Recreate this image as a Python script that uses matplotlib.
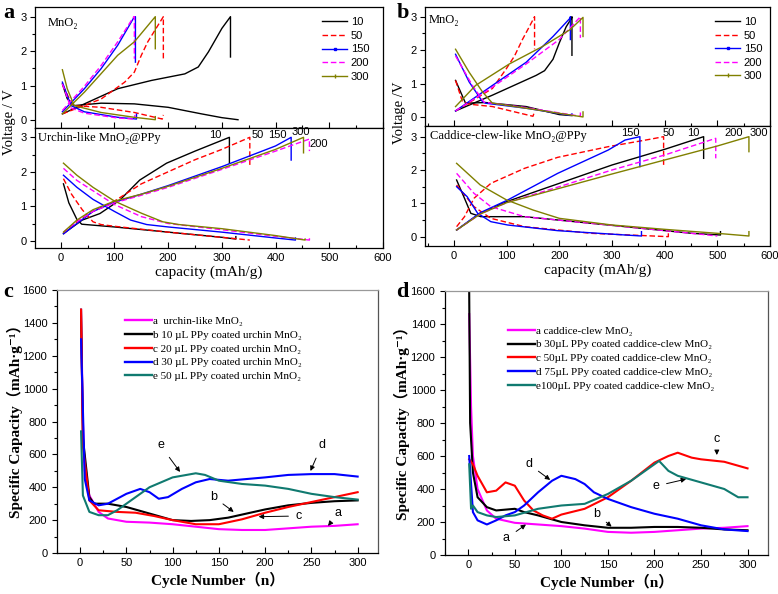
import matplotlib
matplotlib.use("Agg")
import matplotlib.pyplot as plt
from matplotlib.lines import Line2D
from matplotlib.ticker import MultipleLocator

# ---------------- data: panel a (urchin) ----------------
rates = ["10", "50", "150", "200", "300"]

a_top_10_chg = [(3, 0.18), (44, 0.47), (106, 0.91), (169, 1.15), (231, 1.34), (256, 1.54), (275, 1.98), (300, 2.66), (316, 3.0), (316, 1.83)]
a_top_10_dis = [(3, 1.05), (12, 0.62), (25, 0.42), (75, 0.49), (137, 0.47), (200, 0.37), (262, 0.18), (300, 0.07), (330, 0.01)]
a_top_50_chg = [(3, 0.18), (75, 0.61), (119, 1.1), (137, 1.39), (150, 1.88), (162, 2.27), (191, 3.0), (191, 1.78)]
a_top_50_dis = [(4, 1.0), (22, 0.42), (75, 0.37), (137, 0.22), (189, 0.03), (191, 0.15)]
a_top_150_chg = [(3, 0.24), (44, 0.91), (75, 1.49), (106, 2.17), (136, 2.97), (139, 3.0), (139, 1.68)]
a_top_150_dis = [(3, 1.1), (19, 0.42), (44, 0.24), (106, 0.08), (141, 0.03), (141, 0.17)]
a_top_200_chg = [(3, 0.28), (44, 0.98), (75, 1.58), (106, 2.27), (136, 3.0), (137, 3.0), (137, 1.78)]
a_top_200_dis = [(3, 1.05), (19, 0.35), (44, 0.2), (106, 0.06), (138, 0.03), (138, 0.15)]
a_top_300_chg = [(3, 0.18), (44, 0.81), (106, 1.88), (137, 2.27), (176, 3.0), (176, 2.07)]
a_top_300_dis = [(3, 1.46), (12, 0.91), (25, 0.42), (75, 0.22), (137, 0.08), (176, 0.01), (176, 0.1)]

a_bot_10_chg = [(5, 0.21), (40, 0.6), (73, 0.79), (110, 1.18), (147, 1.76), (197, 2.25), (250, 2.6), (314, 3.0), (314, 2.25)]
a_bot_10_dis = [(5, 1.65), (15, 1.1), (30, 0.62), (39, 0.48), (100, 0.4), (200, 0.25), (300, 0.1), (326, 0.05), (326, 0.12)]
a_bot_50_chg = [(5, 0.2), (30, 0.55), (60, 0.85), (100, 1.15), (150, 1.65), (200, 2.0), (250, 2.35), (300, 2.65), (352, 3.0), (352, 2.2)]
a_bot_50_dis = [(5, 1.8), (20, 1.35), (40, 0.9), (60, 0.55), (75, 0.47), (100, 0.42), (200, 0.25), (300, 0.1), (352, 0.02)]
a_bot_150_chg = [(5, 0.2), (30, 0.5), (60, 0.85), (100, 1.12), (150, 1.35), (200, 1.6), (300, 2.15), (400, 2.75), (429, 3.0), (429, 2.34)]
a_bot_150_dis = [(5, 1.9), (30, 1.55), (60, 1.2), (100, 0.85), (130, 0.6), (160, 0.47), (200, 0.4), (300, 0.25), (400, 0.08), (437, 0.02), (437, 0.08)]
a_bot_200_chg = [(5, 0.25), (30, 0.55), (60, 0.85), (100, 1.1), (150, 1.32), (200, 1.55), (300, 2.07), (400, 2.6), (463, 2.95), (463, 2.6)]
a_bot_200_dis = [(5, 2.1), (30, 1.75), (60, 1.45), (100, 1.05), (150, 0.7), (200, 0.5), (300, 0.32), (400, 0.13), (463, 0.02), (463, 0.1)]
a_bot_300_chg = [(5, 0.25), (30, 0.6), (60, 0.9), (100, 1.15), (150, 1.35), (200, 1.58), (300, 2.1), (400, 2.65), (452, 3.0), (452, 2.55)]
a_bot_300_dis = [(5, 2.25), (30, 1.9), (60, 1.55), (100, 1.15), (150, 0.8), (190, 0.55), (220, 0.47), (300, 0.35), (400, 0.15), (455, 0.02), (455, 0.05)]

# ---------------- data: panel b (caddice-clew) ----------------
b_top_10_chg = [(3, 0.19), (73, 0.66), (156, 1.25), (172, 1.39), (188, 1.73), (200, 2.22), (213, 2.7), (223, 2.95), (224, 3.0), (224, 1.85)]
b_top_10_dis = [(3, 1.1), (22, 0.42), (60, 0.44), (137, 0.32), (200, 0.08), (224, 0.05)]
b_top_50_chg = [(3, 0.19), (73, 0.86), (99, 1.44), (115, 1.83), (130, 2.32), (143, 2.7), (153, 3.0), (153, 2.03)]
b_top_50_dis = [(3, 1.1), (16, 0.47), (29, 0.39), (73, 0.32), (150, 0.03), (153, 0.17)]
b_top_150_chg = [(3, 0.19), (73, 0.95), (137, 1.64), (188, 2.41), (220, 2.95), (221, 3.0), (221, 2.32)]
b_top_150_dis = [(3, 1.88), (29, 1.05), (54, 0.47), (60, 0.42), (137, 0.27), (220, 0.06), (224, 0.1)]
b_top_200_chg = [(3, 0.19), (73, 0.9), (137, 1.59), (200, 2.32), (240, 3.0), (240, 2.37)]
b_top_200_dis = [(3, 1.83), (35, 0.95), (57, 0.45), (137, 0.29), (240, 0.03), (240, 0.17)]
b_top_300_chg = [(3, 0.32), (41, 0.95), (105, 1.59), (169, 2.12), (220, 2.61), (245, 2.98), (245, 2.41)]
b_top_300_dis = [(3, 2.03), (29, 1.34), (54, 0.76), (73, 0.42), (137, 0.27), (245, 0.01), (245, 0.16)]

b_bot_10_chg = [(5, 0.2), (50, 0.7), (100, 1.05), (200, 1.6), (300, 2.15), (400, 2.62), (474, 3.0), (474, 2.35)]
b_bot_10_dis = [(5, 1.7), (20, 1.15), (32, 0.7), (51, 0.6), (134, 0.6), (197, 0.5), (325, 0.3), (452, 0.1), (506, 0.05), (506, 0.15)]
b_bot_50_chg = [(5, 0.3), (20, 0.6), (38, 1.15), (70, 1.6), (134, 2.05), (197, 2.38), (293, 2.7), (375, 2.93), (398, 3.0), (398, 2.1)]
b_bot_50_dis = [(5, 1.55), (38, 0.9), (70, 0.55), (134, 0.3), (261, 0.1), (407, 0.0), (407, 0.12)]
b_bot_150_chg = [(5, 0.2), (50, 0.72), (102, 1.1), (197, 1.9), (293, 2.6), (325, 2.9), (353, 3.0), (353, 2.1)]
b_bot_150_dis = [(5, 1.5), (25, 1.2), (45, 0.7), (70, 0.45), (102, 0.35), (197, 0.18), (325, 0.05), (356, 0.02), (356, 0.15)]
b_bot_200_chg = [(5, 0.2), (50, 0.68), (100, 1.02), (200, 1.5), (300, 2.0), (400, 2.45), (497, 2.95), (497, 2.35)]
b_bot_200_dis = [(5, 1.9), (38, 1.3), (70, 0.9), (134, 0.6), (197, 0.5), (325, 0.3), (452, 0.1), (500, 0.02)]
b_bot_300_chg = [(5, 0.2), (50, 0.68), (100, 1.02), (200, 1.45), (300, 1.88), (400, 2.3), (500, 2.72), (560, 3.0), (560, 2.55)]
b_bot_300_dis = [(5, 2.2), (50, 1.55), (100, 1.1), (150, 0.8), (200, 0.55), (300, 0.35), (400, 0.22), (500, 0.1), (560, 0.02), (560, 0.15)]

# ---------------- data: panel c ----------------
c_labels = ["a  urchin-like MnO\u2082",
            "b 10 \u00b5L PPy coated urchin MnO\u2082",
            "c 20 \u00b5L PPy coated urchin MnO\u2082",
            "d 30 \u00b5L PPy coated urchin MnO\u2082",
            "e 50 \u00b5L PPy coated urchin MnO\u2082"]
c_a_n = [1, 3, 5, 10, 20, 30, 50, 75, 100, 125, 150, 175, 200, 225, 250, 275, 300]
c_a_v = [1480, 800, 500, 350, 250, 210, 190, 185, 175, 160, 145, 140, 140, 150, 160, 165, 175]
c_b_n = [1, 3, 10, 15, 30, 50, 75, 100, 120, 140, 160, 180, 200, 225, 250, 275, 300]
c_b_v = [1480, 700, 340, 300, 300, 280, 240, 200, 195, 200, 215, 240, 265, 290, 305, 315, 320]
c_c_n = [1, 3, 10, 20, 40, 60, 80, 100, 125, 150, 175, 200, 225, 250, 275, 300]
c_c_v = [1480, 650, 320, 260, 250, 245, 225, 200, 175, 175, 205, 245, 280, 310, 340, 370]
c_d_n = [1, 5, 10, 20, 30, 40, 50, 65, 75, 85, 95, 110, 125, 140, 160, 180, 200, 225, 250, 275, 300]
c_d_v = [1300, 450, 320, 290, 300, 330, 360, 390, 370, 330, 340, 390, 430, 450, 440, 450, 460, 475, 480, 480, 465]
c_e_n = [1, 3, 10, 20, 30, 40, 50, 60, 75, 100, 125, 135, 150, 175, 200, 225, 250, 275, 300]
c_e_v = [740, 350, 250, 230, 230, 260, 300, 340, 400, 460, 485, 475, 440, 420, 410, 390, 360, 340, 325]

# ---------------- data: panel d ----------------
d_labels = ["a caddice-clew MnO\u2082",
            "b 30\u00b5L PPy coated caddice-clew MnO\u2082",
            "c 50\u00b5L PPy coated caddice-clew MnO\u2082",
            "d 75\u00b5L PPy coated caddice-clew MnO\u2082",
            "e100\u00b5L PPy coated caddice-clew MnO\u2082"]
d_a_n = [1, 3, 5, 10, 20, 30, 50, 75, 100, 125, 150, 175, 200, 225, 250, 275, 300]
d_a_v = [1460, 900, 600, 400, 270, 220, 195, 185, 175, 160, 140, 135, 140, 150, 160, 165, 175]
d_b_n = [1, 2, 5, 10, 20, 30, 40, 50, 60, 75, 100, 125, 150, 175, 200, 225, 250, 275, 300]
d_b_v = [1590, 800, 500, 350, 290, 270, 275, 280, 260, 240, 200, 180, 165, 165, 170, 170, 165, 155, 150]
d_c_n = [1, 5, 10, 20, 30, 40, 50, 60, 70, 80, 90, 100, 125, 150, 175, 200, 215, 225, 240, 250, 275, 300]
d_c_v = [580, 550, 480, 380, 390, 440, 420, 330, 270, 240, 220, 245, 280, 350, 450, 560, 600, 620, 590, 580, 565, 525]
d_d_n = [1, 5, 10, 20, 30, 40, 50, 60, 75, 90, 100, 115, 125, 135, 150, 175, 200, 225, 250, 275, 300]
d_d_v = [600, 260, 210, 185, 210, 240, 260, 300, 380, 450, 480, 460, 430, 380, 340, 290, 250, 220, 180, 155, 145]
d_e_n = [1, 3, 5, 10, 20, 30, 50, 75, 100, 125, 150, 175, 200, 205, 215, 225, 250, 275, 290, 300]
d_e_v = [550, 280, 300, 260, 240, 230, 240, 280, 300, 310, 370, 450, 550, 570, 510, 480, 440, 400, 350, 350]

# ---------------- styles ----------------
SERIF = ["Liberation Serif", "DejaVu Serif"]
SERIF_CJK = ["Liberation Serif", "Noto Sans CJK SC", "DejaVu Serif"]
SANS = ["Liberation Sans", "DejaVu Sans"]
plt.rcParams["font.family"] = SANS

rate_colors = ["#000000", "#FF0000", "#0000FF", "#FF00FF", "#808000"]
rate_ls = ["-", (0, (4, 2)), "-", (0, (4, 2)), "-"]
cyc_colors = ["#FF00FF", "#000000", "#FF0000", "#0000FF", "#107A70"]

W, H = 778, 594
fig = plt.figure(figsize=(W / 100, H / 100), dpi=100)


def px_axes(l, t, r, b):
    return fig.add_axes([l / W, 1 - b / H, (r - l) / W, (b - t) / H])


def style_vc(ax, ylim, xlim, show_xlabels):
    ax.set_xlim(*xlim)
    ax.set_ylim(*ylim)
    ax.set_yticks([0, 1, 2, 3])
    ax.yaxis.set_minor_locator(MultipleLocator(0.5))
    ax.xaxis.set_major_locator(MultipleLocator(100))
    ax.xaxis.set_minor_locator(MultipleLocator(50))
    ax.tick_params(axis="x", which="both", direction="in", top=False, labelsize=8)
    ax.tick_params(axis="x", which="major", length=4, width=0.8)
    ax.tick_params(axis="x", which="minor", length=2.5, width=0.8)
    ax.tick_params(axis="y", which="both", direction="out", right=False, labelsize=8, pad=2.5)
    ax.tick_params(axis="y", which="major", length=3.5, width=0.8)
    ax.tick_params(axis="y", which="minor", length=2, width=0.8)
    if not show_xlabels:
        ax.tick_params(axis="x", labelbottom=False)
    for s in ax.spines.values():
        s.set_linewidth(0.9)


def draw_curves(ax, curves):
    for (chg, dis), col, ls in zip(curves, rate_colors, rate_ls):
        ax.plot([p[0] for p in dis], [p[1] for p in dis], color=col, ls=ls, lw=1.0)
        ax.plot([p[0] for p in chg], [p[1] for p in chg], color=col, ls=ls, lw=1.0)


def rate_legend(ax, anchor):
    hs = []
    mk = [None, None, "s", None, "|"]
    for col, ls, m in zip(rate_colors, rate_ls, mk):
        hs.append(Line2D([], [], color=col, ls=ls, lw=1.0, marker=m, ms=1.8 if m == "s" else 3.5))
    ax.legend(hs, rates, loc="upper left", bbox_to_anchor=anchor, frameon=False,
              fontsize=8, handlelength=2.3, handletextpad=0.3, labelspacing=0.32,
              borderpad=0, borderaxespad=0, numpoints=1)


# ----- panel a -----
a_top = px_axes(35, 7, 383, 128)
a_bot = px_axes(35, 128, 383, 248)
draw_curves(a_top, [(a_top_10_chg, a_top_10_dis), (a_top_50_chg, a_top_50_dis),
                    (a_top_150_chg, a_top_150_dis), (a_top_200_chg, a_top_200_dis),
                    (a_top_300_chg, a_top_300_dis)])
draw_curves(a_bot, [(a_bot_10_chg, a_bot_10_dis), (a_bot_50_chg, a_bot_50_dis),
                    (a_bot_150_chg, a_bot_150_dis), (a_bot_200_chg, a_bot_200_dis),
                    (a_bot_300_chg, a_bot_300_dis)])
style_vc(a_top, (-0.23, 3.28), (-48, 600), False)
style_vc(a_bot, (-0.21, 3.27), (-48, 600), True)
rate_legend(a_top, (0.824, 0.915))
a_top.text(0.037, 0.87, "MnO\u2082", transform=a_top.transAxes, family=SERIF, fontsize=9, va="center")
a_bot.text(0.01, 0.915, "Urchin-like MnO\u2082@PPy", transform=a_bot.transAxes, family=SERIF, fontsize=9, va="center")
for lab, x, y in [("10", 287, 3.06), ("50", 366, 3.06), ("150", 404, 3.06), ("300", 447, 3.15), ("200", 480, 2.8)]:
    a_bot.text(x, y, lab, fontsize=8, ha="center", va="center")
a_bot.set_xlabel("capacity (mAh/g)", family=SERIF, fontsize=11, labelpad=2)
fig.text(10 / W, 1 - 122 / H, "Voltage / V", rotation=90, family=SERIF, fontsize=10.5, ha="center", va="center")
fig.text(9 / W, 1 - 13 / H, "a", family=SERIF, fontsize=16, fontweight="bold", ha="center", va="center")

# ----- panel b -----
b_top = px_axes(425, 7, 770, 126)
b_bot = px_axes(425, 126, 770, 246)
draw_curves(b_top, [(b_top_10_chg, b_top_10_dis), (b_top_50_chg, b_top_50_dis),
                    (b_top_150_chg, b_top_150_dis), (b_top_200_chg, b_top_200_dis),
                    (b_top_300_chg, b_top_300_dis)])
draw_curves(b_bot, [(b_bot_10_chg, b_bot_10_dis), (b_bot_50_chg, b_bot_50_dis),
                    (b_bot_150_chg, b_bot_150_dis), (b_bot_200_chg, b_bot_200_dis),
                    (b_bot_300_chg, b_bot_300_dis)])
style_vc(b_top, (-0.26, 3.29), (-55, 600), False)
style_vc(b_bot, (-0.28, 3.32), (-55, 600), True)
rate_legend(b_top, (0.84, 0.915))
b_top.text(0.012, 0.89, "MnO\u2082", transform=b_top.transAxes, family=SERIF, fontsize=9, va="center")
b_bot.text(0.015, 0.915, "Caddice-clew-like MnO\u2082@PPy", transform=b_bot.transAxes, family=SERIF, fontsize=9, va="center")
for lab, x, y in [("150", 334, 3.1), ("50", 407, 3.1), ("10", 455, 3.1), ("200", 531, 3.1), ("300", 578, 3.1)]:
    b_bot.text(x, y, lab, fontsize=8, ha="center", va="center")
b_bot.set_xlabel("capacity (mAh/g)", family=SERIF, fontsize=11, labelpad=2)
fig.text(400 / W, 1 - 113 / H, "Voltage /V", rotation=90, family=SERIF, fontsize=10.5, ha="center", va="center")
fig.text(403 / W, 1 - 13 / H, "b", family=SERIF, fontsize=16, fontweight="bold", ha="center", va="center")


# ----- panels c, d -----
def style_cyc(ax):
    ax.set_xlim(-25, 322)
    ax.set_ylim(0, 1600)
    ax.xaxis.set_major_locator(MultipleLocator(50))
    ax.xaxis.set_minor_locator(MultipleLocator(25))
    ax.yaxis.set_major_locator(MultipleLocator(200))
    ax.yaxis.set_minor_locator(MultipleLocator(100))
    ax.tick_params(axis="x", which="both", direction="in", top=False, labelsize=8)
    ax.tick_params(axis="x", which="major", length=4, width=0.8)
    ax.tick_params(axis="x", which="minor", length=2.5, width=0.8)
    ax.tick_params(axis="y", which="both", direction="out", right=False, labelsize=8)
    ax.tick_params(axis="y", which="major", length=3.5, width=0.8)
    ax.tick_params(axis="y", which="minor", length=2, width=0.8)
    ax.spines["top"].set_color("#999999")
    ax.spines["right"].set_color("#555555")
    for s in ax.spines.values():
        s.set_linewidth(0.9)
    ax.set_xlabel("Cycle Number\uff08n\uff09", family=SERIF_CJK, fontsize=11, fontweight="bold", labelpad=3)


def arrow(ax, txt, xytext, xy):
    ax.annotate(txt, xy=xy, xytext=xytext, fontsize=9, ha="center", va="center",
                arrowprops=dict(arrowstyle="-|>", color="k", lw=0.7, mutation_scale=7, shrinkA=3, shrinkB=0))


c_ax = px_axes(57, 290, 378, 553)
for n, v, col in zip([c_a_n, c_b_n, c_c_n, c_d_n, c_e_n], [c_a_v, c_b_v, c_c_v, c_d_v, c_e_v], cyc_colors):
    c_ax.plot(n, v, color=col, lw=1.5)
style_cyc(c_ax)
hs = [Line2D([], [], color=col, lw=1.7) for col in cyc_colors]
c_ax.legend(hs, c_labels, loc="upper left", bbox_to_anchor=(0.212, 0.9), frameon=False,
            prop={"family": SERIF, "size": 8}, handlelength=2.4, handletextpad=0.1,
            labelspacing=0.36, borderpad=0, borderaxespad=0)
arrow(c_ax, "e", (87, 654), (108, 493))
arrow(c_ax, "d", (261, 654), (249, 499))
arrow(c_ax, "b", (144, 342), (166, 250))
arrow(c_ax, "c", (236, 225), (193, 221))
arrow(c_ax, "a", (279, 241), (268, 165))
fig.text(15 / W, 1 - 418 / H, "Specific Capacity\uff08mAh\u00b7g\u207b\u00b9\uff09", rotation=90,
         family=SERIF_CJK, fontsize=11, fontweight="bold", ha="center", va="center")
fig.text(8 / W, 1 - 292 / H, "c", family=SERIF, fontsize=16, fontweight="bold", ha="center", va="center")

d_ax = px_axes(445, 291, 768, 555)
for n, v, col in zip([d_a_n, d_b_n, d_c_n, d_d_n, d_e_n], [d_a_v, d_b_v, d_c_v, d_d_v, d_e_v], cyc_colors):
    d_ax.plot(n, v, color=col, lw=1.5)
style_cyc(d_ax)
d_ax.legend(hs, d_labels, loc="upper left", bbox_to_anchor=(0.195, 0.868), frameon=False,
            prop={"family": SERIF, "size": 8}, handlelength=2.4, handletextpad=0.1,
            labelspacing=0.36, borderpad=0, borderaxespad=0)
arrow(d_ax, "d", (65, 551), (88, 455))
arrow(d_ax, "b", (138, 246), (154, 172))
arrow(d_ax, "a", (41, 101), (62, 185))
arrow(d_ax, "c", (267, 701), (267, 606))
arrow(d_ax, "e", (202, 418), (234, 460))
fig.text(402 / W, 1 - 420 / H, "Specific Capacity\uff08mAh\u00b7g\u207b\u00b9\uff09", rotation=90,
         family=SERIF_CJK, fontsize=11, fontweight="bold", ha="center", va="center")
fig.text(402 / W, 1 - 292 / H, "d", family=SERIF, fontsize=16, fontweight="bold", ha="center", va="center")

fig.savefig("out.png", dpi=100)
